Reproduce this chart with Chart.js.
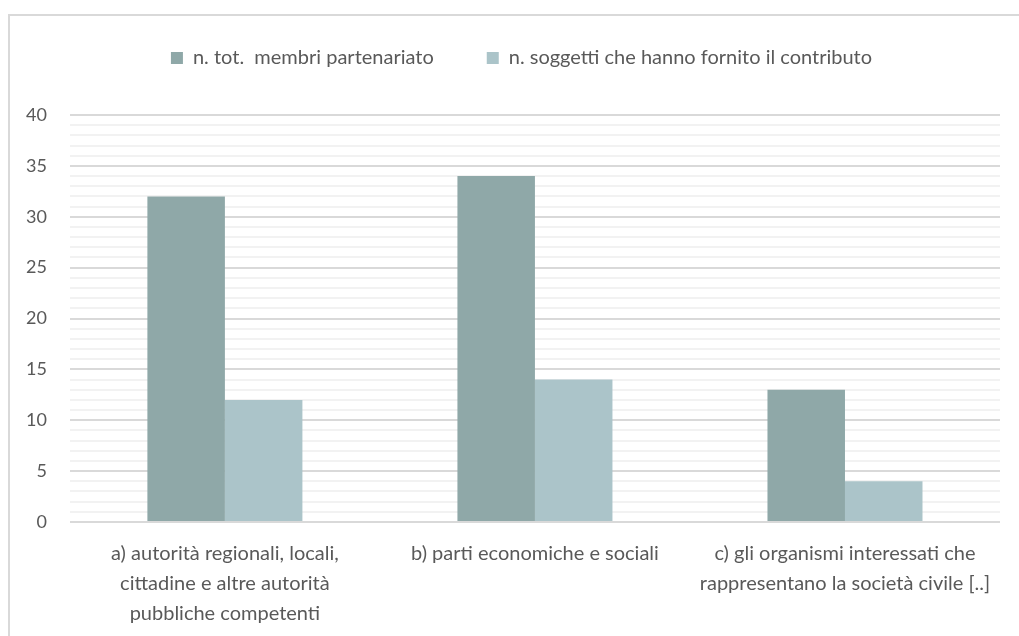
<!DOCTYPE html>
<html>
<head>
<meta charset="utf-8">
<script src="https://cdn.jsdelivr.net/npm/chart.js@4.4.1/dist/chart.umd.min.js"></script>
<style>
  html, body { margin: 0; padding: 0; background: #fff; overflow: hidden; }
  #frame { position: absolute; left: 8px; top: 14px; width: 1100px; height: 700px; border: 2px solid #d9d9d9; }
  #myChart { position: absolute; left: 0; top: 0; }
</style>
</head>
<body>
<div id="frame"></div>
<canvas id="myChart" width="1019" height="636"></canvas>
<script>
var categories = [
  ['a) autorità regionali, locali,', 'cittadine e altre autorità', 'pubbliche competenti'],
  'b) parti economiche e sociali',
  ['c) gli organismi interessati che', 'rappresentano la società civile [..]']
];
var seriesNames = ['n. tot.  membri partenariato', 'n. soggetti che hanno fornito il contributo'];
var totMembri = [32, 34, 13];
var soggetti = [12, 14, 4];
var yMax = 40;
var yMajorStep = 5;

// push the plot down below the legend and nudge the legend right, like the original
var legendTweak = {
  id: 'legendTweak',
  beforeInit: function (chart) {
    var origFit = chart.legend.fit;
    chart.legend.fit = function () {
      origFit.bind(chart.legend)();
      this.height += 37;
    };
  },
  afterLayout: function (chart) {
    chart.legend.left += 20;
    chart.legend.right += 20;
  }
};

var ctx = document.getElementById('myChart');
var myChart = new Chart(ctx, {
  type: 'bar',
  data: {
    labels: categories,
    datasets: [{
      label: seriesNames[0],
      data: totMembri,
      backgroundColor: '#8fa8a8'
    }, {
      label: seriesNames[1],
      data: soggetti,
      backgroundColor: '#abc4c9'
    }]
  },
  plugins: [legendTweak],
  options: {
    responsive: false,
    animation: false,
    datasets: {
      bar: { categoryPercentage: 0.5, barPercentage: 1.0 }
    },
    layout: {
      padding: { top: -5, left: 3, right: 19, bottom: -10 }
    },
    plugins: {
      tooltip: { enabled: false },
      legend: {
        position: 'top',
        labels: {
          boxWidth: 12,
          boxHeight: 12,
          padding: 53,
          color: '#595959',
          font: { family: 'Lato', size: 20 }
        }
      }
    },
    scales: {
      x: {
        grid: { display: false, drawTicks: false },
        border: { display: false },
        ticks: {
          color: '#595959',
          padding: 17,
          maxRotation: 0,
          font: { family: 'Lato', size: 20, lineHeight: 1.5 }
        }
      },
      y: {
        min: 0,
        max: yMax,
        border: { display: false },
        grid: {
          drawTicks: false,
          lineWidth: 2,
          color: function (c) {
            return c.tick.value % yMajorStep === 0 ? '#d9d9d9' : '#f2f2f2';
          }
        },
        ticks: {
          stepSize: 1,
          autoSkip: false,
          padding: 23,
          color: '#595959',
          font: { family: 'Lato', size: 18 },
          callback: function (v) { return v % yMajorStep === 0 ? v : ''; }
        }
      }
    }
  }
});
</script>
</body>
</html>
